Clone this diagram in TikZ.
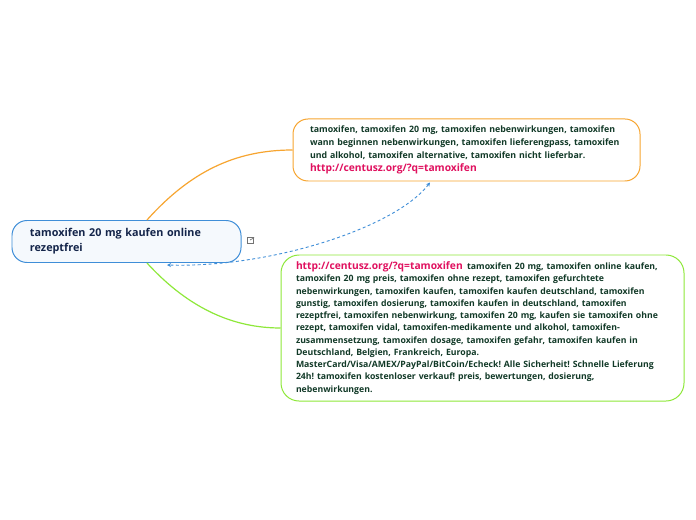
\documentclass[tikz,border=0pt]{standalone}
\usepackage{fontspec}
\setmainfont{Open Sans}
\usetikzlibrary{arrows.meta}
\frenchspacing
\definecolor{txtgreen}{HTML}{123A28}
\definecolor{navy}{HTML}{14254A}
\definecolor{linkred}{HTML}{E0115F}
\definecolor{orangeln}{HTML}{F7A530}
\definecolor{greenln}{HTML}{8EE83A}
\definecolor{blueln}{HTML}{3F8ED8}
\definecolor{bluefill}{HTML}{F5F9FD}
\tikzset{
  topicbox/.style={draw=blueln, line width=1pt, fill=bluefill, rounded corners=15bp,
    minimum width=229bp, minimum height=42bp, text width=193bp, inner xsep=18bp,
    align=left, text=navy, font=\bfseries\fontsize{10.85}{15}\selectfont},
  orangebox/.style={draw=orangeln, line width=1pt, fill=white, rounded corners=15bp,
    minimum width=347bp, minimum height=62bp, text width=313bp, inner xsep=17bp,
    align=left, text=txtgreen, font=\bfseries\fontsize{8.85}{13}\selectfont},
  greenbox/.style={draw=greenln, line width=1pt, fill=white, rounded corners=18bp,
    minimum width=403bp, minimum height=146bp, text width=373bp, inner xsep=15bp,
    align=left, text=txtgreen, font=\bfseries\fontsize{8.75}{12.3}\selectfont},
  branch/.style={line width=1.2pt},
  dashlink/.style={draw=blueln, line width=0.9pt, dashed, dash pattern=on 3pt off 2.5pt,
    {Stealth[length=4pt,width=4pt]}-{Stealth[length=4pt,width=4pt]}},
}
\newcommand{\linkA}[1]{{\color{linkred}\fontsize{10.3}{12}\selectfont #1}}
\begin{document}
\begin{tikzpicture}[x=1bp,y=-1bp]
\useasboundingbox[fill=white] (0,0) rectangle (696,520);
\node[topicbox] (c) at (126.5,241.5) {tamoxifen 20 mg kaufen online\\rezeptfrei};
\node[orangebox] (o) at (466.5,150) {tamoxifen, tamoxifen 20 mg, tamoxifen nebenwirkungen, tamoxifen\\
wann beginnen nebenwirkungen, tamoxifen lieferengpass, tamoxifen\\
und alkohol, tamoxifen alternative, tamoxifen nicht lieferbar.\\
\linkA{http://centusz.org/?q=tamoxifen}};
\node[greenbox] (g) at (482.5,328) {\linkA{http://centusz.org/?q=tamoxifen}\enspace tamoxifen 20 mg, tamoxifen online kaufen,\\
tamoxifen 20 mg preis, tamoxifen ohne rezept, tamoxifen gefurchtete\\
nebenwirkungen, tamoxifen kaufen, tamoxifen kaufen deutschland, tamoxifen\\
gunstig, tamoxifen dosierung, tamoxifen kaufen in deutschland, tamoxifen\\
rezeptfrei, tamoxifen nebenwirkung, tamoxifen 20 mg, kaufen sie tamoxifen ohne\\
rezept, tamoxifen vidal, tamoxifen-medikamente und alkohol, tamoxifen-\\
zusammensetzung, tamoxifen dosage, tamoxifen gefahr, tamoxifen kaufen in\\
Deutschland, Belgien, Frankreich, Europa.\\
MasterCard/Visa/AMEX/PayPal/BitCoin/Echeck! Alle Sicherheit! Schnelle Lieferung\\
24h! tamoxifen kostenloser verkauf! preis, bewertungen, dosierung,\\
nebenwirkungen.};
% branches
\draw[branch, draw=orangeln] ([xshift=20.5bp]c.north) .. controls (190,172) and (235,150) .. (o.west);
\draw[branch, draw=greenln] ([xshift=20.5bp]c.south) .. controls (190,310) and (235,328) .. (g.west);
% dashed relation
\draw[dashlink] ([xshift=-36.5bp,yshift=-1bp]o.south) .. controls (395,228) and (270,268) .. ([xshift=40.5bp,yshift=-2bp]c.south);
% link icon
\node[draw=gray!90!black, line width=0.7pt, minimum size=6bp, inner sep=0pt] (icon) at (250,240) {};
\draw[gray!90!black, line width=0.7pt, -{Stealth[length=1.5pt,width=1.5pt]}] (icon.center) -- ([xshift=1bp,yshift=-1bp]icon.north east);
\end{tikzpicture}
\end{document}
